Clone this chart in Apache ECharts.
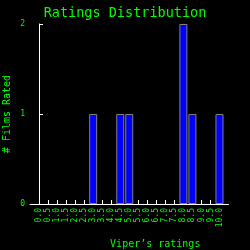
<!DOCTYPE html>
<html><head><meta charset="utf-8">
<script src="https://cdn.jsdelivr.net/npm/echarts@6/dist/echarts.min.js"></script>
<style>html,body{margin:0;padding:0;background:#000}#c{width:250px;height:250px}</style>
</head><body><div id="c"></div>
<script>
var ratingLabels = ["0.0","0.5","1.0","1.5","2.0","2.5","3.0","3.5","4.0","4.5","5.0","5.5","6.0","6.5","7.0","7.5","8.0","8.5","9.0","9.5","10.0"];
var filmCounts =   [0,0,0,0,0,0,1,0,0,1,1,0,0,0,0,0,2,1,0,0,1];
var yTicks = [0,1,2];
var titleText = "Ratings Distribution";
var xName = "Viper\u2019s ratings";
var yName = "# Films Rated";

var ratingValues = ratingLabels.map(Number);
var barData = [];
for (var i = 0; i < ratingValues.length; i++) {
  if (filmCounts[i] > 0) barData.push([ratingValues[i], filmCounts[i]]);
}
var green = '#00ff00';
var font = 'DejaVu Sans Mono';
var chart = echarts.init(document.getElementById('c'), null, {renderer:'canvas'});
chart.setOption({
  backgroundColor: '#000',
  animation: false,
  title: {text: titleText, left: 'center', top: 1, textStyle: {color: green, fontFamily: font, fontSize: 13.5, fontWeight: 'normal'}},
  grid: {left: 30, right: 21.5, top: 24, bottom: 46, containLabel: false, outerBoundsMode: 'none'},
  xAxis: {
    type: 'value', min: -0.5, max: 10.5, interval: 0.5,
    name: xName, nameLocation: 'middle', nameGap: 35, nameMoveOverlap: false,
    nameTextStyle: {color: green, fontFamily: font, fontSize: 10, padding: [0,0,0,52]},
    axisLine: {lineStyle: {color: '#fff', width: 1}},
    axisTick: {inside: true, length: 4, lineStyle: {color: '#fff'}, customValues: ratingValues},
    axisLabel: {rotate: 90, color: green, fontFamily: font, fontSize: 8, margin: 4, customValues: ratingValues,
      formatter: function(v){ var k = ratingValues.indexOf(v); return k >= 0 ? ratingLabels[k] : ''; }},
    splitLine: {show: false}
  },
  yAxis: {
    type: 'value', min: yTicks[0], max: yTicks[yTicks.length-1], interval: 1,
    name: yName, nameLocation: 'middle', nameGap: 18, nameMoveOverlap: false,
    nameTextStyle: {color: green, fontFamily: font, fontSize: 10},
    axisLine: {show: true, lineStyle: {color: '#fff', width: 1}},
    axisTick: {show: true, inside: true, length: 4, lineStyle: {color: '#fff'}},
    axisLabel: {color: green, fontFamily: font, fontSize: 8, margin: 5},
    splitLine: {show: false}
  },
  series: [{
    type: 'bar', data: barData, barWidth: 8,
    itemStyle: {color: '#0000ff', borderColor: '#808080', borderWidth: 1}
  }]
});
</script></body></html>
